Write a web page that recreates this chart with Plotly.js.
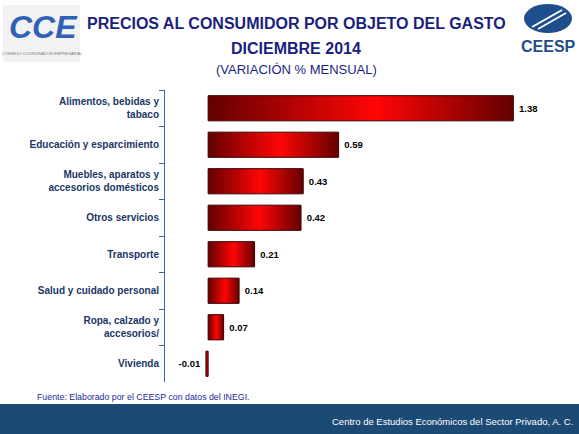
<!DOCTYPE html>
<html>
<head>
<meta charset="utf-8">
<script src="https://cdn.plot.ly/plotly-3.0.1.min.js"></script>
<style>
  html, body { margin: 0; padding: 0; background: #fff; }
  #chart { width: 579px; height: 434px; }
</style>
</head>
<body>
<div id="chart"></div>
<script>
// categorias, de arriba hacia abajo
const categorias = [
    "Alimentos, bebidas y<br>tabaco",
    "Educación y esparcimiento",
    "Muebles, aparatos y<br>accesorios domésticos",
    "Otros servicios",
    "Transporte",
    "Salud y cuidado personal",
    "Ropa, calzado y<br>accesorios/",
    "Vivienda"
];
const variacion = [1.38, 0.59, 0.43, 0.42, 0.21, 0.14, 0.07, -0.01];
const etiquetas = ["1.38", "0.59", "0.43", "0.42", "0.21", "0.14", "0.07", "-0.01"];

const W = 579, H = 434;
const M = { l: 165, r: 17, t: 90, b: 52 };
const pw = W - M.l - M.r, ph = H - M.t - M.b;
// pixel -> paper
const px = x => (x - M.l) / pw;
const py = y => (H - M.b - y) / ph;

const FONT = "Arial, 'Liberation Sans', sans-serif";
const NAVY = '#1b1f7e';

const data = [{
    type: 'bar',
    orientation: 'h',
    y: categorias,
    x: variacion,
    text: etiquetas,
    texttemplate: '\u00a0<b>%{text}</b>\u00a0',
    textposition: 'outside',
    cliponaxis: false,
    textfont: { family: FONT, size: 9.5, color: '#000' },
    marker: {
        color: '#d00000',
        line: { color: '#3a0000', width: 1 }
    },
    hoverinfo: 'none'
}];

const layout = {
    width: W,
    height: H,
    margin: M,
    paper_bgcolor: '#fff',
    plot_bgcolor: '#fff',
    showlegend: false,
    bargap: 0.31,
    font: { family: FONT },
    xaxis: {
        range: [-0.195, 1.6],
        showticklabels: false,
        showgrid: false,
        zeroline: false,
        showline: false,
        fixedrange: true
    },
    yaxis: {
        autorange: 'reversed',
        showline: true,
        linecolor: '#3a66a0',
        linewidth: 1,
        ticks: 'outside',
        tickson: 'boundaries',
        ticklen: 5,
        tickcolor: '#3a66a0',
        ticklabelstandoff: 3,
        showgrid: false,
        tickfont: { family: FONT, size: 10, color: '#1a3766', weight: 'bold' },
        fixedrange: true
    },
    shapes: [
        // banda inferior
        { type: 'rect', xref: 'paper', yref: 'paper', x0: px(0), x1: px(W), y0: py(404), y1: py(H),
          fillcolor: '#1b4a75', line: { width: 0 }, layer: 'below' },
        // logo izquierdo (fondo)
        { type: 'rect', xref: 'paper', yref: 'paper', x0: px(3), x1: px(80), y0: py(5), y1: py(62),
          fillcolor: '#f2f2f2', line: { width: 0 } },
        // logo derecho
        { type: 'circle', xref: 'paper', yref: 'paper', x0: px(524), x1: px(572), y0: py(4), y1: py(33),
          fillcolor: '#1f4e8c', line: { width: 0 } },
        { type: 'line', xref: 'paper', yref: 'paper', x0: px(532), x1: px(562), y0: py(27), y1: py(10),
          line: { color: '#fff', width: 2 } },
        { type: 'line', xref: 'paper', yref: 'paper', x0: px(538), x1: px(566), y0: py(29), y1: py(13),
          line: { color: '#fff', width: 1.5 } }
    ],
    annotations: [
        { text: '<b>PRECIOS AL CONSUMIDOR POR OBJETO DEL GASTO</b>', xref: 'paper', yref: 'paper',
          x: px(296), y: py(23), xanchor: 'center', yanchor: 'middle', showarrow: false,
          font: { family: FONT, size: 16, color: NAVY } },
        { text: '<b>DICIEMBRE 2014</b>', xref: 'paper', yref: 'paper',
          x: px(296), y: py(48), xanchor: 'center', yanchor: 'middle', showarrow: false,
          font: { family: FONT, size: 16, color: NAVY } },
        { text: '(VARIACIÓN % MENSUAL)', xref: 'paper', yref: 'paper', x: px(296), y: py(69),
          xanchor: 'center', yanchor: 'middle', showarrow: false,
          font: { family: FONT, size: 13, color: NAVY } },
        { text: '<b><i>CCE</i></b>', xref: 'paper', yref: 'paper', x: px(43), y: py(27),
          xanchor: 'center', yanchor: 'middle', showarrow: false,
          font: { family: FONT, size: 32, color: '#2f62b5' } },
        { text: 'CONSEJO COORDINADOR EMPRESARIAL', xref: 'paper', yref: 'paper', x: px(42), y: py(53),
          xanchor: 'center', yanchor: 'middle', showarrow: false,
          font: { family: FONT, size: 4, color: '#777' } },
        { text: '<b>CEESP</b>', xref: 'paper', yref: 'paper', x: px(548), y: py(46),
          xanchor: 'center', yanchor: 'middle', showarrow: false,
          font: { family: FONT, size: 16, color: '#1f4e8c' } },
        { text: 'Fuente: Elaborado por el CEESP con datos del INEGI.', xref: 'paper', yref: 'paper',
          x: px(35), y: py(397), xanchor: 'left', yanchor: 'middle', showarrow: false,
          font: { family: FONT, size: 8.8, color: '#23299a' } },
        { text: 'Centro de Estudios Económicos del Sector Privado, A. C.', xref: 'paper', yref: 'paper',
          x: px(575), y: py(421), xanchor: 'right', yanchor: 'middle', showarrow: false,
          font: { family: FONT, size: 9.5, color: '#fff' } }
    ]
};

Plotly.newPlot('chart', data, layout, { displayModeBar: false, staticPlot: true }).then(gd => {
    // degradado oscuro-rojo-oscuro en las barras
    const svg = gd.querySelector('svg.main-svg');
    const NS = 'http://www.w3.org/2000/svg';
    let defs = svg.querySelector('defs');
    if (!defs) { defs = document.createElementNS(NS, 'defs'); svg.insertBefore(defs, svg.firstChild); }
    const grad = document.createElementNS(NS, 'linearGradient');
    grad.setAttribute('id', 'barGrad');
    grad.setAttribute('x1', '0'); grad.setAttribute('x2', '1');
    grad.setAttribute('y1', '0'); grad.setAttribute('y2', '0');
    [[0, '#640000'], [0.55, '#ff0505'], [1, '#640000']].forEach(([o, c]) => {
        const s = document.createElementNS(NS, 'stop');
        s.setAttribute('offset', o);
        s.setAttribute('stop-color', c);
        grad.appendChild(s);
    });
    defs.appendChild(grad);
    gd.querySelectorAll('.trace.bars .point path').forEach(p => {
        p.style.fill = 'url(#barGrad)';
    });
});
</script>
</body>
</html>
